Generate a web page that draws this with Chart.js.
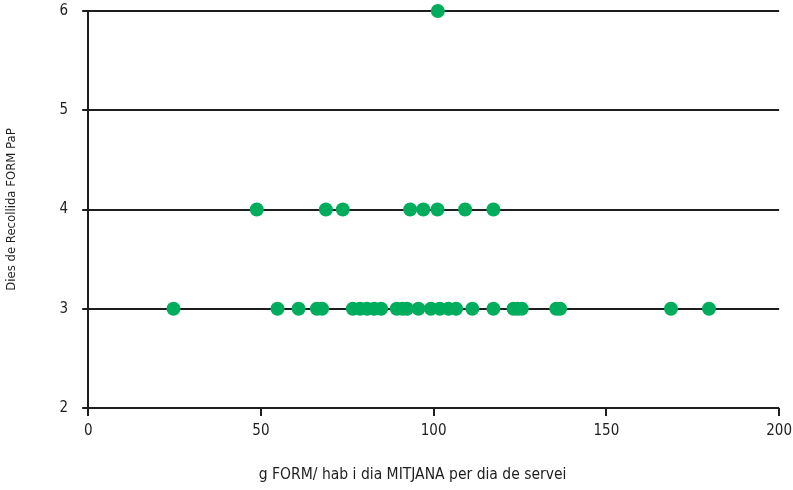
<!DOCTYPE html>
<html>
<head>
<meta charset="utf-8">
<script src="https://cdn.jsdelivr.net/npm/chart.js@4"></script>
<style>
  html, body { margin: 0; padding: 0; background: #fff; overflow: hidden; }
  #wrap { width: 793px; height: 490px; overflow: hidden; position: relative; }
  #c { position: absolute; left: 0; top: -12px; }
</style>
</head>
<body>
<div id="wrap"><canvas id="c" width="798" height="502"></canvas></div>
<script>
// g FORM per inhabitant and day (mean), grouped by collection days per week
const daysLevels = [3, 4, 6];
const gramsAt3Days = [24.7, 54.8, 60.9, 66.2, 67.7, 76.6, 78.7, 80.7, 82.8, 84.8,
  89.3, 91.0, 92.3, 95.6, 99.2, 101.8, 104.3, 106.5, 111.2, 117.3,
  123.1, 124.3, 125.5, 135.5, 136.6, 168.7, 179.7];
const gramsAt4Days = [48.8, 68.8, 73.7, 93.2, 97.0, 101.1, 109.1, 117.3];
const gramsAt6Days = [101.2];

const xTicks = [0, 50, 100, 150, 200];
const yTicks = [2, 3, 4, 5, 6];
const xTitle = 'g FORM/ hab i dia MITJANA per dia de servei';

const groups = [gramsAt3Days, gramsAt4Days, gramsAt6Days];
const points = [];
groups.forEach((vals, i) => vals.forEach(v => points.push({ x: v, y: daysLevels[i] })));

const FONT = "'Liberation Sans Narrow', 'DejaVu Sans Condensed', sans-serif";
const GREEN = '#00ad5c';
const INK = '#1e1e1e';

// x-axis caption, set slightly left of the plot centre
const xCaption = {
  id: 'xCaption',
  afterDraw(chart) {
    const { ctx, chartArea } = chart;
    ctx.save();
    ctx.fillStyle = INK;
    ctx.font = `15.5px ${FONT}`;
    ctx.textAlign = 'center';
    ctx.textBaseline = 'middle';
    ctx.fillText(xTitle, (chartArea.left + chartArea.right) / 2 - 21, chart.height - 15);
    ctx.restore();
  }
};

new Chart(document.getElementById('c'), {
  type: 'scatter',
  data: {
    datasets: [{
      data: points,
      backgroundColor: GREEN,
      borderColor: GREEN,
      pointRadius: 7,
      pointHoverRadius: 7,
      borderWidth: 0,
      clip: false
    }]
  },
  options: {
    responsive: false,
    animation: false,
    layout: { padding: { top: 0, right: 0, left: 4, bottom: 44 } },
    plugins: { legend: { display: false }, tooltip: { enabled: false } },
    scales: {
      x: {
        type: 'linear',
        min: 0, max: 200,
        afterBuildTicks: s => { s.ticks = xTicks.map(v => ({ value: v })); },
        grid: { drawOnChartArea: false, color: INK, lineWidth: 2, tickLength: 8 },
        border: { display: false },
        ticks: { color: INK, font: { family: FONT, size: 15 }, padding: 6 }
      },
      y: {
        type: 'linear',
        min: 2, max: 6,
        afterBuildTicks: s => { s.ticks = yTicks.map(v => ({ value: v })); },
        grid: { color: INK, lineWidth: 2, tickLength: 6 },
        border: { display: true, color: INK, width: 2 },
        ticks: { color: INK, font: { family: FONT, size: 15 }, padding: 14 },
        title: {
          display: true,
          text: 'Dies de Recollida FORM PaP',
          color: INK,
          font: { family: FONT, size: 13 },
          padding: { top: 0, bottom: 26 }
        }
      }
    }
  },
  plugins: [xCaption]
});
</script>
</body>
</html>
